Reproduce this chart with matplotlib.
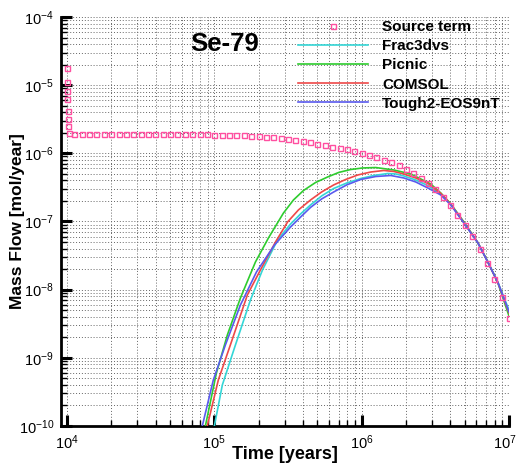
import matplotlib
matplotlib.use("Agg")
import matplotlib.pyplot as plt
import matplotlib.transforms as mtransforms
from matplotlib.ticker import LogLocator, NullFormatter

plt.rcParams['font.family'] = ['Liberation Sans', 'DejaVu Sans']
plt.rcParams['mathtext.fontset'] = 'custom'
plt.rcParams['mathtext.rm'] = 'Liberation Sans'
plt.rcParams['mathtext.default'] = 'regular'

# ---------------- data ----------------
source_t = [1.000e4, 1.001e4, 1.003e4, 1.005e4, 1.008e4, 1.012e4, 1.017e4, 1.025e4,
            1.12e4, 1.26e4, 1.41e4, 1.58e4, 1.78e4, 2.00e4, 2.24e4, 2.51e4, 2.82e4, 3.16e4,
            3.55e4, 3.98e4, 4.47e4, 5.01e4, 5.62e4, 6.31e4, 7.08e4, 7.94e4, 8.91e4, 1.00e5,
            1.12e5, 1.26e5, 1.41e5, 1.58e5, 1.78e5, 2.00e5, 2.24e5, 2.51e5, 2.82e5, 3.16e5,
            3.55e5, 3.98e5, 4.47e5, 5.01e5, 5.62e5, 6.31e5, 7.08e5, 7.94e5, 8.91e5, 1.00e6,
            1.12e6, 1.26e6, 1.41e6, 1.58e6, 1.78e6, 2.00e6, 2.24e6, 2.51e6, 2.82e6, 3.16e6,
            3.55e6, 3.98e6, 4.47e6, 5.01e6, 5.62e6, 6.31e6, 7.08e6, 7.94e6, 8.91e6, 1.00e7]
source_v = [1.77e-5, 1.10e-5, 8.3e-6, 6.3e-6, 4.2e-6, 3.2e-6, 2.5e-6, 1.97e-6,
            1.93e-6, 1.93e-6, 1.93e-6, 1.93e-6, 1.93e-6, 1.93e-6, 1.93e-6, 1.93e-6, 1.93e-6, 1.93e-6,
            1.93e-6, 1.92e-6, 1.92e-6, 1.92e-6, 1.92e-6, 1.91e-6, 1.90e-6, 1.90e-6, 1.89e-6, 1.87e-6,
            1.86e-6, 1.85e-6, 1.84e-6, 1.83e-6, 1.80e-6, 1.77e-6, 1.74e-6, 1.72e-6, 1.68e-6, 1.65e-6,
            1.58e-6, 1.52e-6, 1.45e-6, 1.37e-6, 1.31e-6, 1.24e-6, 1.19e-6, 1.14e-6, 1.07e-6, 1.01e-6,
            9.46e-7, 8.84e-7, 7.98e-7, 7.34e-7, 6.75e-7, 5.89e-7, 5.15e-7, 4.42e-7, 3.67e-7, 2.95e-7,
            2.29e-7, 1.75e-7, 1.25e-7, 8.9e-8, 6.03e-8, 3.95e-8, 2.46e-8, 1.43e-8, 7.8e-9, 3.85e-9]

frac3dvs_t = [9.40e4, 1.000e5, 1.133e5, 1.368e5, 1.758e5, 2.123e5, 2.685e5, 3.289e5, 3.846e5,
              4.498e5, 5.346e5, 6.457e5, 7.91e5, 9.84e5, 1.208e6, 1.503e6, 1.702e6, 1.932e6,
              2.328e6, 2.812e6, 3.443e6, 4.027e6, 4.943e6, 6.152e6, 7.194e6, 8.414e6, 1.0e7]
frac3dvs_v = [4.45e-11, 1.0e-10, 4.0e-10, 1.39e-9, 7.06e-9, 1.95e-8, 5.36e-8, 9.18e-8, 1.29e-7,
              1.75e-7, 2.37e-7, 3.05e-7, 3.67e-7, 4.27e-7, 4.73e-7, 5.06e-7, 4.98e-7, 4.66e-7,
              4.06e-7, 3.37e-7, 2.53e-7, 1.78e-7, 9.7e-8, 4.9e-8, 2.55e-8, 1.28e-8, 5.03e-9]

picnic_t = [7.94e4, 8.69e4, 1.033e5, 1.225e5, 1.503e5, 1.901e5, 2.328e5, 2.944e5, 3.443e5,
            4.027e5, 4.86e5, 5.875e5, 6.98e5, 8.414e5, 1.016e6, 1.245e6, 1.652e6, 2.153e6,
            2.944e6, 3.443e6, 4.027e6, 4.943e6, 6.152e6, 7.194e6, 8.414e6, 1.0e7]
picnic_v = [3.98e-11, 1.0e-10, 6.0e-10, 2.16e-9, 7.55e-9, 2.55e-8, 5.73e-8, 1.33e-7, 2.07e-7,
            2.85e-7, 3.73e-7, 4.50e-7, 5.24e-7, 5.79e-7, 6.10e-7, 6.19e-7, 5.70e-7, 4.98e-7,
            3.55e-7, 2.62e-7, 1.81e-7, 9.84e-8, 4.84e-8, 2.55e-8, 1.25e-8, 4.11e-9]

comsol_t = [8.32e4, 8.95e4, 1.064e5, 1.285e5, 1.675e5, 2.056e5, 2.600e5, 3.141e5, 3.724e5,
            4.498e5, 5.346e5, 6.457e5, 7.78e5, 9.397e5, 1.151e6, 1.413e6, 1.652e6, 1.932e6,
            2.328e6, 2.812e6, 3.443e6, 4.027e6, 4.943e6, 6.152e6, 7.194e6, 8.414e6, 1.0e7]
comsol_v = [4.47e-11, 1.0e-10, 4.73e-10, 1.55e-9, 8.36e-9, 1.95e-8, 5.0e-8, 9.84e-8, 1.48e-7,
            2.07e-7, 2.71e-7, 3.44e-7, 4.13e-7, 4.81e-7, 5.32e-7, 5.60e-7, 5.42e-7, 4.98e-7,
            4.35e-7, 3.63e-7, 2.58e-7, 1.78e-7, 9.6e-8, 4.88e-8, 2.52e-8, 1.26e-8, 4.55e-9]

tough2_t = [7.59e4, 8.28e4, 9.84e4, 1.189e5, 1.503e5, 1.932e5, 2.559e5, 3.289e5, 3.846e5,
            4.498e5, 5.346e5, 6.457e5, 7.91e5, 9.84e5, 1.245e6, 1.574e6, 1.932e6, 2.328e6,
            2.858e6, 3.443e6, 4.027e6, 4.943e6, 6.152e6, 7.194e6, 8.414e6, 1.0e7]
tough2_v = [4.47e-11, 1.0e-10, 4.73e-10, 1.55e-9, 5.96e-9, 1.82e-8, 4.52e-8, 8.30e-8, 1.16e-7,
            1.61e-7, 2.14e-7, 2.71e-7, 3.44e-7, 4.13e-7, 4.57e-7, 4.73e-7, 4.35e-7, 3.80e-7,
            3.05e-7, 2.45e-7, 1.75e-7, 9.5e-8, 4.85e-8, 2.52e-8, 1.27e-8, 4.71e-9]

x_ticks = [1e4, 1e5, 1e6, 1e7]
x_tick_labels = [r'$10^{4}$', r'$10^{5}$', r'$10^{6}$', r'$10^{7}$']
y_ticks = [1e-10, 1e-9, 1e-8, 1e-7, 1e-6, 1e-5, 1e-4]
y_tick_labels = [r'$10^{-10}$', r'$10^{-9}$', r'$10^{-8}$', r'$10^{-7}$',
                 r'$10^{-6}$', r'$10^{-5}$', r'$10^{-4}$']

# ---------------- figure ----------------
W, H = 517, 469
fig = plt.figure(figsize=(W / 100, H / 100), dpi=100)
ax = fig.add_axes([61 / W, 1 - 426 / H, (509 - 61) / W, (426 - 17) / H])

ax.set_xscale('log')
ax.set_yscale('log')
ax.set_xlim(9100, 1e7)
ax.set_ylim(1e-10, 1e-4)

ax.plot(frac3dvs_t, frac3dvs_v, color='#33d6d6', lw=1.2, label='Frac3dvs', zorder=3)
ax.plot(picnic_t, picnic_v, color='#2ecc2e', lw=1.2, label='Picnic', zorder=3)
ax.plot(comsol_t, comsol_v, color='#ee4848', lw=1.2, label='COMSOL', zorder=3)
ax.plot(tough2_t, tough2_v, color='#5a5aee', lw=1.2, label='Tough2-EOS9nT', zorder=3)
ax.plot(source_t, source_v, ls='none', marker='s', ms=3.6, mfc='none', mec='#ff4fa0',
        mew=1.0, label='Source term', zorder=4)

# ticks and grid
ax.xaxis.set_minor_locator(LogLocator(base=10, subs=range(2, 10), numticks=20))
ax.yaxis.set_minor_locator(LogLocator(base=10, subs=range(2, 10), numticks=20))
ax.xaxis.set_minor_formatter(NullFormatter())
ax.yaxis.set_minor_formatter(NullFormatter())
ax.set_xticks(x_ticks)
ax.set_xticklabels(x_tick_labels)
ax.set_yticks(y_ticks)
ax.set_yticklabels(y_tick_labels)
ax.grid(True, which='both', ls=(0, (1, 2)), color='#666666', lw=0.7)
ax.set_axisbelow(True)

for s in ['top', 'right']:
    ax.spines[s].set_visible(False)
for s in ['left', 'bottom']:
    ax.spines[s].set_linewidth(2.0)

ax.tick_params(which='major', direction='in', length=8, width=2.2, labelsize=10.5, pad=5,
               top=False, right=False)
ax.tick_params(which='minor', direction='in', length=4, width=1.0, top=False, right=False)

# nudge last x tick label left so it stays inside the figure
lbl = ax.get_xticklabels()[-1]
lbl.set_transform(lbl.get_transform() +
                  mtransforms.ScaledTranslation(-4 / 100, 0, fig.dpi_scale_trans))

ax.set_xlabel('Time [years]', fontsize=13, fontweight='bold')
ax.xaxis.set_label_coords(0.5, (426 - 446) / 409)
ax.set_ylabel('Mass Flow [mol/year]', fontsize=12.5, fontweight='bold')
ax.yaxis.set_label_coords((25 - 61) / 448, 0.5)

ax.text((190 - 61) / 448, (426 - 51) / 409, 'Se-79', transform=ax.transAxes,
        fontsize=18.5, fontweight='bold', ha='left', va='baseline')

handles, labels = ax.get_legend_handles_labels()
order = [4, 0, 1, 2, 3]
leg = fig.legend([handles[i] for i in order], [labels[i] for i in order],
                 loc='upper left', bbox_to_anchor=(298 / W, 1 - 20 / H),
                 frameon=False, handlelength=4.6, handletextpad=0.9, labelspacing=0.34,
                 borderpad=0, borderaxespad=0, numpoints=1,
                 prop={'weight': 'bold', 'size': 11})

fig.savefig('out.png', dpi=100)
